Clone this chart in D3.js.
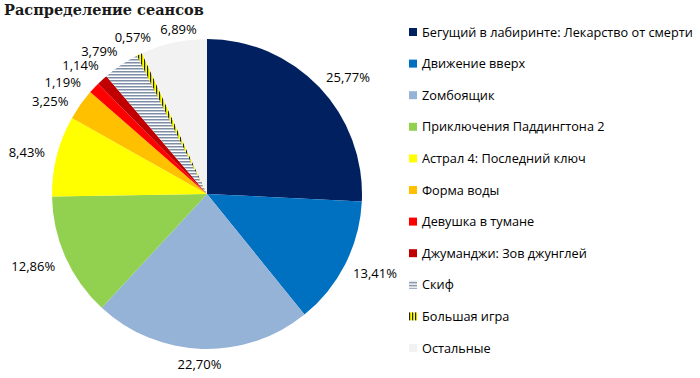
<!DOCTYPE html>
<html>
<head>
<meta charset="utf-8">
<script src="https://cdn.jsdelivr.net/npm/d3@7"></script>
<style>
  body { margin: 0; background: #fff; }
  svg { display: block; }
</style>
</head>
<body>
<div id="chart"></div>
<script>
const titleText = "Распределение сеансов";
const films = [
    "Бегущий в лабиринте: Лекарство от смерти",
    "Движение вверх",
    "Zомбоящик",
    "Приключения Паддингтона 2",
    "Астрал 4: Последний ключ",
    "Форма воды",
    "Девушка в тумане",
    "Джуманджи: Зов джунглей",
    "Скиф",
    "Большая игра",
    "Остальные"
];
const shares = [25.77, 13.41, 22.70, 12.86, 8.43, 3.25, 1.19, 1.14, 3.79, 0.57, 6.89];
const fills = ["#002060", "#0070C0", "#95B3D7", "#92D050", "#FFFF00", "#FFC000",
    "#FF0000", "#C00000", "url(#skif)", "url(#igra)", "#F2F2F2"];
// small turn (degrees) and push (px) of each label, as the original spreads the crowded ones
const labelTurn = [4, -1.5, 0.6, 1.5, -1.2, -4.6, -5.5, -2, -3.3, 0.5, 2.6];
const labelOut = [0, 1, 2, 3, 3, 1, 2, 1, 1, -2, -4];

const width = 700, height = 378;
const cx = 207, cy = 194, radius = 155;

const svg = d3.select("#chart").append("svg")
    .attr("width", width)
    .attr("height", height);

// hatch patterns for the two striped slices
const defs = svg.append("defs");
const skif = defs.append("pattern")
    .attr("id", "skif")
    .attr("patternUnits", "userSpaceOnUse")
    .attr("width", 4).attr("height", 3);
skif.append("rect").attr("width", 4).attr("height", 3).attr("fill", "#fff");
skif.append("rect").attr("width", 4).attr("height", 1.5).attr("fill", "#7E8EA6");

const igra = defs.append("pattern")
    .attr("id", "igra")
    .attr("patternUnits", "userSpaceOnUse")
    .attr("width", 3).attr("height", 4);
igra.append("rect").attr("width", 3).attr("height", 4).attr("fill", "#FFFF00");
igra.append("rect").attr("width", 1.2).attr("height", 4).attr("fill", "#222");

svg.append("text")
    .attr("x", 4)
    .attr("y", 15)
    .attr("font-family", "DejaVu Serif")
    .attr("font-weight", "bold")
    .attr("font-size", 14.5)
    .attr("fill", "#1a1a1a")
    .text(titleText);

const pie = d3.pie()
    .sort(null)
    .value(d => d)
    .startAngle(0)
    .endAngle(2 * Math.PI);

const arcs = pie(shares);
const arc = d3.arc().innerRadius(0).outerRadius(radius);

const g = svg.append("g")
    .attr("transform", "translate(" + cx + "," + cy + ")");

g.selectAll("path.slice")
    .data(arcs)
    .enter().append("path")
    .attr("class", "slice")
    .attr("d", arc)
    .attr("fill", (d, i) => fills[i]);

// labels outside the pie, pushed out so the nearest edge of the text box sits off the rim
const fmt = v => v.toFixed(2).replace(".", ",") + "%";
const gap = 8;
const labels = g.selectAll("text.lbl")
    .data(arcs)
    .enter().append("text")
    .attr("class", "lbl")
    .attr("font-family", "Open Sans")
    .attr("font-size", 13)
    .attr("fill", "#000")
    .attr("text-anchor", "middle")
    .text(d => fmt(d.value));

labels.each(function (d, i) {
    const w = this.getComputedTextLength();
    const h = 10;
    const a = (d.startAngle + d.endAngle) / 2 + labelTurn[i] * Math.PI / 180;
    const s = Math.sin(a), c = Math.cos(a);
    const dist = radius + gap + labelOut[i] + (w / 2) * Math.abs(s) + (h / 2) * Math.abs(c);
    d3.select(this)
        .attr("x", dist * s)
        .attr("y", -dist * c + 4.6);
});

// legend
const legend = svg.append("g")
    .attr("transform", "translate(409, 32)");

const item = legend.selectAll("g")
    .data(films)
    .enter().append("g")
    .attr("transform", (d, i) => "translate(0," + (i * 31.6) + ")");

item.append("rect")
    .attr("x", 0)
    .attr("y", -4)
    .attr("width", 8)
    .attr("height", 8)
    .attr("fill", (d, i) => fills[i]);

const legText = item.append("text")
    .attr("x", 13)
    .attr("y", 4.6)
    .attr("font-family", "Open Sans")
    .attr("font-size", 13)
    .attr("fill", "#000")
    .text(d => d);

// shrink the legend font so the longest name ends where it does in the original
const longest = d3.max(legText.nodes(), n => n.getComputedTextLength());
legText.attr("font-size", 13 * 271 / longest);
</script>
</body>
</html>
